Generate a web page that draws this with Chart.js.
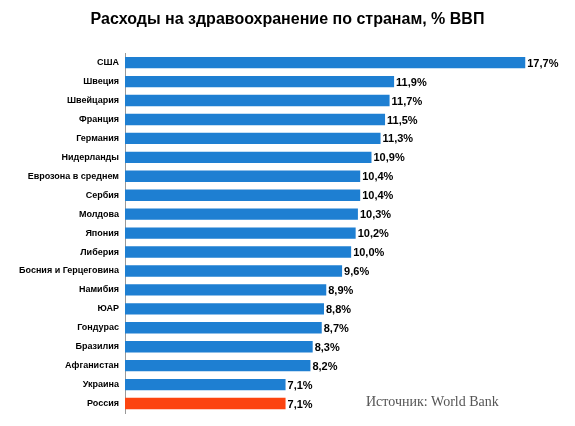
<!DOCTYPE html>
<html><head><meta charset="utf-8">
<script src="https://cdn.jsdelivr.net/npm/chart.js@4"></script>
<style>body{margin:0;background:#fff}#w{width:575px;height:426px;position:relative}</style>
</head><body><div id="w"><canvas id="c"></canvas></div>
<script>
const categories=["США","Швеция","Швейцария","Франция","Германия","Нидерланды","Еврозона в среднем","Сербия","Молдова","Япония","Либерия","Босния и Герцеговина","Намибия","ЮАР","Гондурас","Бразилия","Афганистан","Украина","Россия"];
const values=[17.7,11.9,11.7,11.5,11.3,10.9,10.4,10.4,10.3,10.2,10.0,9.6,8.9,8.8,8.7,8.3,8.2,7.1,7.1];
const colors=categories.map(c=>c==="Россия"?"#fc4410":"#1e7fd2");
const labelPlugin={id:'lbl',afterDatasetsDraw(ch){const ctx=ch.ctx;const m=ch.getDatasetMeta(0);ctx.save();ctx.font="bold 11px Arial, 'Liberation Sans'";ctx.fillStyle="#000";ctx.textBaseline="middle";
m.data.forEach((b,i)=>{ctx.fillText(values[i].toFixed(1).replace('.',',')+'%',b.x+2,b.y+1);});
ctx.font="14px 'Liberation Serif', serif";ctx.fillStyle="#555";ctx.fillText("Источник: World Bank",366,402);
ctx.restore();}};
new Chart(document.getElementById('c'),{type:'bar',data:{labels:categories,datasets:[{data:values,backgroundColor:colors,barPercentage:0.6,categoryPercentage:1}]},
options:{indexAxis:'y',responsive:true,maintainAspectRatio:false,animation:false,
layout:{padding:{left:0,right:0,top:0,bottom:13}},
plugins:{legend:{display:false},tooltip:{enabled:false},title:{display:true,text:"Расходы на здравоохранение по странам, % ВВП",font:{family:"Arial, 'Liberation Sans'",size:16,weight:'bold'},color:'#000',padding:{top:10,bottom:24}}},
scales:{x:{min:0,max:19.9,display:false},
y:{afterFit(s){s.width=125;},grid:{display:false,drawTicks:true,tickLength:3},border:{color:'#999'},ticks:{color:'#000',font:{family:"Arial, 'Liberation Sans'",size:9,weight:'bold'},padding:3}}}},
plugins:[labelPlugin]});
</script></body></html>
